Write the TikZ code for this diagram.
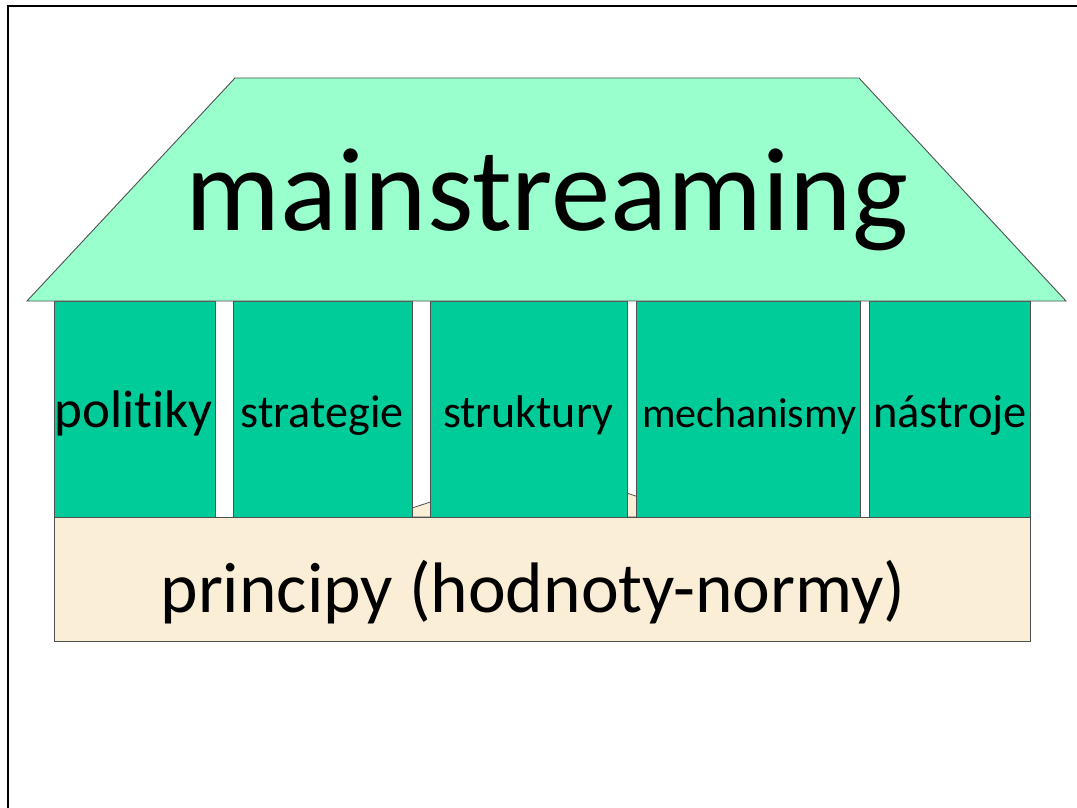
\documentclass[tikz,border=0pt]{standalone}
\usepackage{fontspec}
\setmainfont{Carlito}[Ligatures=NoCommon]
\usepackage{graphicx}
\definecolor{roofc}{HTML}{99FFCC}
\definecolor{pillarc}{HTML}{00CC99}
\definecolor{basec}{HTML}{FBEED6}
\definecolor{edgec}{HTML}{505050}
\tikzset{
  pillar/.style={draw=edgec, line width=0.9pt, fill=pillarc},
  roofstyle/.style={draw=edgec, line width=0.9pt, fill=roofc},
  basestyle/.style={draw=edgec, line width=1pt, fill=basec},
  lbl/.style={inner sep=0pt, anchor=base, text=black}
}
\newcommand{\fitw}[2]{\resizebox{#1pt}{!}{\fontsize{40}{48}\selectfont #2}}
\begin{document}
\begin{tikzpicture}[x=1pt,y=-1pt]
\useasboundingbox (0,0) rectangle (1077,808);
\fill[white] (0,0) rectangle (1077,808);
% frame
\draw[line width=2pt, black] (8,808) -- (8,6) -- (1077,6);
% hidden gable behind pillars
\draw[basestyle, line width=0.8pt] (385,517) -- (542,465) -- (699,517) -- cycle;
% base
\draw[basestyle] (54,517) rectangle (1030,641);
% pillars
\draw[pillar] (54,301) rectangle (215,517);
\draw[pillar] (233,301) rectangle (412,517);
\draw[pillar] (430,301) rectangle (627,517);
\draw[pillar] (636,301) rectangle (860,517);
\draw[pillar] (869,301) rectangle (1030,517);
% roof
\draw[roofstyle] (235,78) -- (859,78) -- (1066,301) -- (27,301) -- cycle;
% labels
\node[lbl] (roof) at (547,230) {\fitw{722}{mainstreaming}};
\node[lbl] (p1) at (134,427) {\fitw{158}{politiky}};
\node[lbl] (p2) at (322,427) {\fitw{163}{strategie}};
\node[lbl] (p3) at (528,427) {\fitw{170}{struktury}};
\node[lbl] (p4) at (749,427) {\fitw{214}{mechanismy}};
\node[lbl] (p5) at (950,427) {\fitw{154}{nástroje}};
\node[lbl] (base) at (533,612) {\fitw{745}{principy (hodnoty-normy)}};
\end{tikzpicture}
\end{document}
